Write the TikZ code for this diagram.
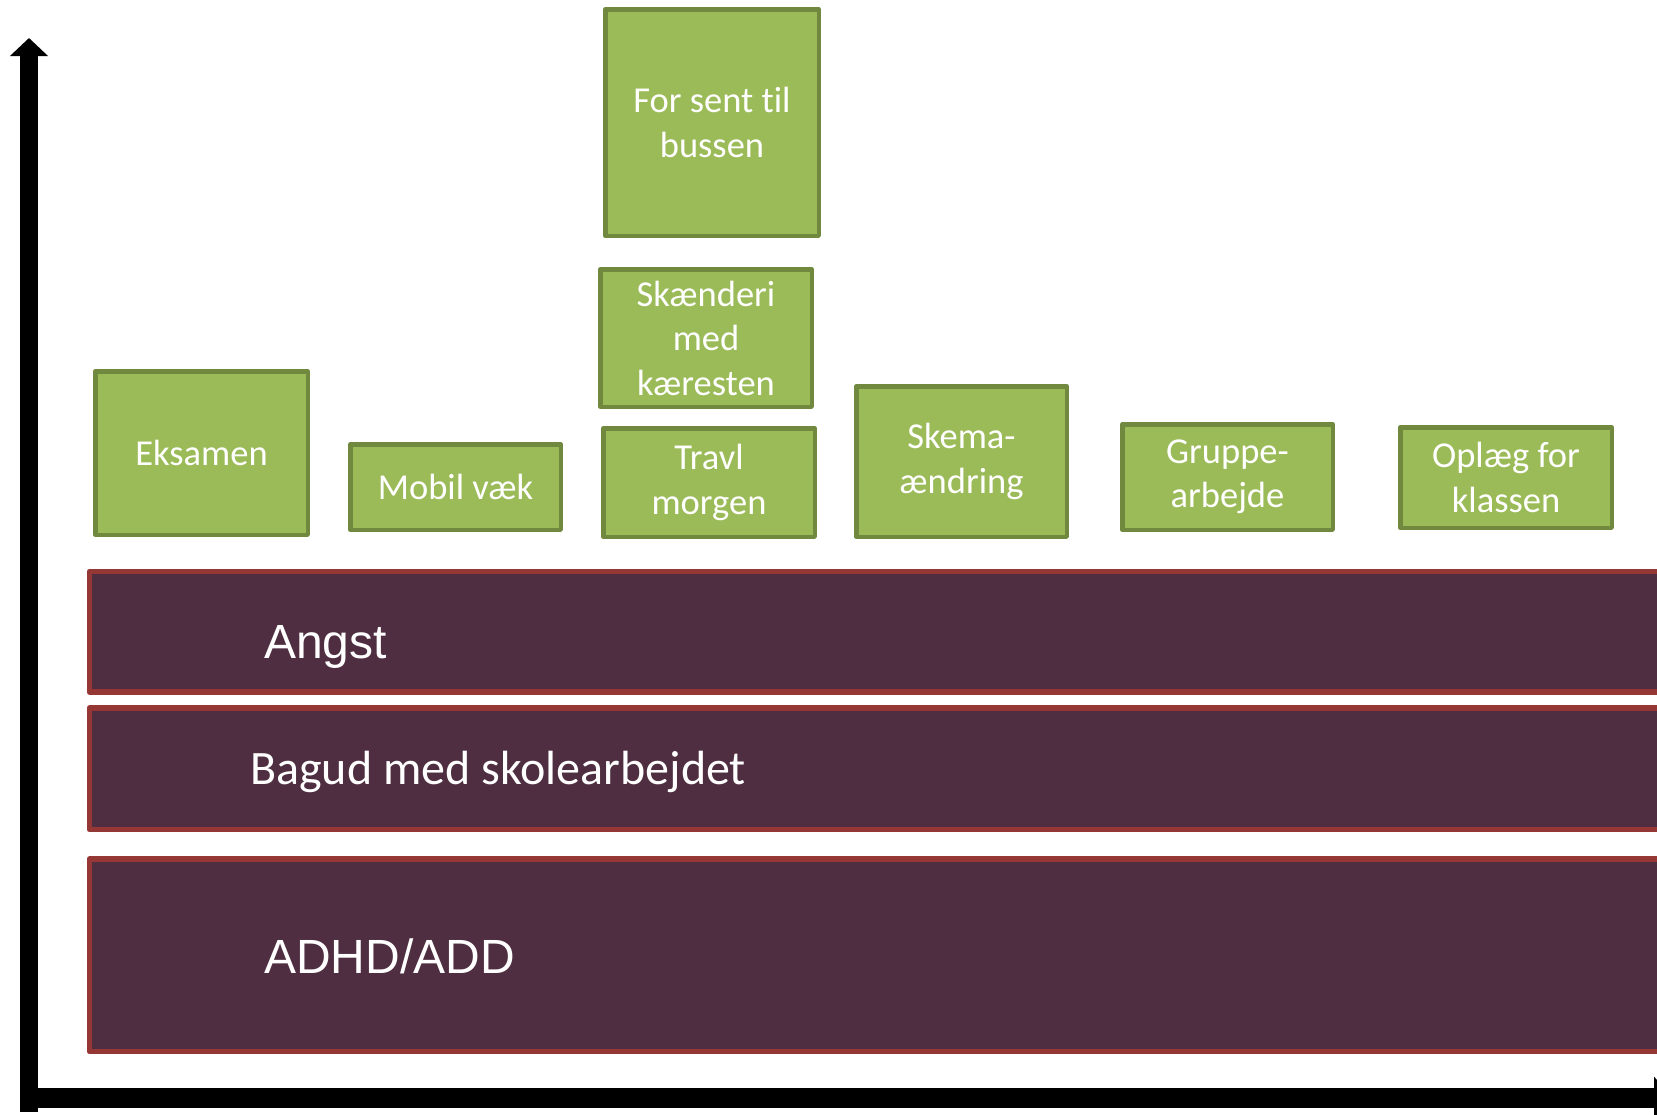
\documentclass[tikz,border=0pt]{standalone}
\usepackage{fontspec}
\newfontfamily\calibrifont[Ligatures=NoCommon]{Carlito}
\newfontfamily\arialfont{Liberation Sans}
\usetikzlibrary{arrows.meta}
\definecolor{gfill}{RGB}{155,187,89}
\definecolor{gline}{RGB}{113,137,63}
\definecolor{pfill}{RGB}{78,46,64}
\definecolor{pline}{RGB}{149,55,53}
\begin{document}
\begin{tikzpicture}[x=1pt,y=-1pt,
  gbox/.style={draw=gline, fill=gfill, line width=4.5pt, line join=round, inner sep=0pt, align=center,
    text=white, font=\calibrifont\fontsize{36.5}{44.5}\selectfont},
  band/.style={draw=pline, fill=pfill, line width=5.5pt, line join=round, inner sep=0pt, anchor=north west,
    minimum width=1700pt},
  arialtxt/.style={text=white, inner sep=0pt, anchor=base west, font=\arialfont\fontsize{48}{56}\selectfont},
  calitxt/.style={text=white, inner sep=0pt, anchor=base west, font=\calibrifont\fontsize{48}{56}\selectfont},
  axis/.style={line width=#1, black}
]
\useasboundingbox (0,0) rectangle (1657,1114);
\clip (0,0) rectangle (1657,1114);
\fill[white] (0,0) rectangle (1657,1114);

% bands
\node[band, minimum height=120.5pt] (angst) at (86.75,568.75) {};
\node[band, minimum height=121.5pt] (bagud) at (86.75,705.25) {};
\node[band, minimum height=192.5pt] (adhd) at (86.75,856.25) {};
\node[arialtxt] (angstlbl) at (264,658) {Angst};
\node[calitxt] (bagudlbl) at (250,784) {Bagud med skolearbejdet};
\node[arialtxt] (adhdlbl) at (264,973) {ADHD/ADD};

% green boxes
\node[gbox, minimum width=212.5pt, minimum height=163.5pt] (eks) at (201.5,453) {Eksamen};
\node[gbox, minimum width=210.5pt, minimum height=85.5pt] (mob) at (455.5,487) {Mobil væk};
\node[gbox, minimum width=211.5pt, minimum height=108.5pt] (travl) at (709,482.5) {Travl\\morgen};
\node[gbox, minimum width=211.5pt, minimum height=137.5pt] (skaend) at (706,338) {Skænderi\\med\\kæresten};
\node[gbox, minimum width=213.5pt, minimum height=226.5pt] (bus) at (712,122.5) {For sent til\\bussen};
\node[gbox, minimum width=210.5pt, minimum height=150.5pt] (skema) at (961.5,461.5) {Skema-\\ændring};
\node[gbox, minimum width=210.5pt, minimum height=105.5pt] (grup) at (1227.5,477) {Gruppe-\\arbejde};
\node[gbox, minimum width=211.5pt, minimum height=100.5pt] (opl) at (1506,477.5) {Oplæg for\\klassen};

% axes
\coordinate (ybot) at (29,1112);
\coordinate (ytip) at (29,38);
\coordinate (xstart) at (20,1098);
\coordinate (xtip) at (1672,1098);
\draw[axis=18pt, -{Triangle[width=37pt,length=18pt]}] (ybot) -- (ytip);
\draw[axis=20pt, -{Triangle[width=42pt,length=18pt]}] (xstart) -- (xtip);
\end{tikzpicture}
\end{document}
